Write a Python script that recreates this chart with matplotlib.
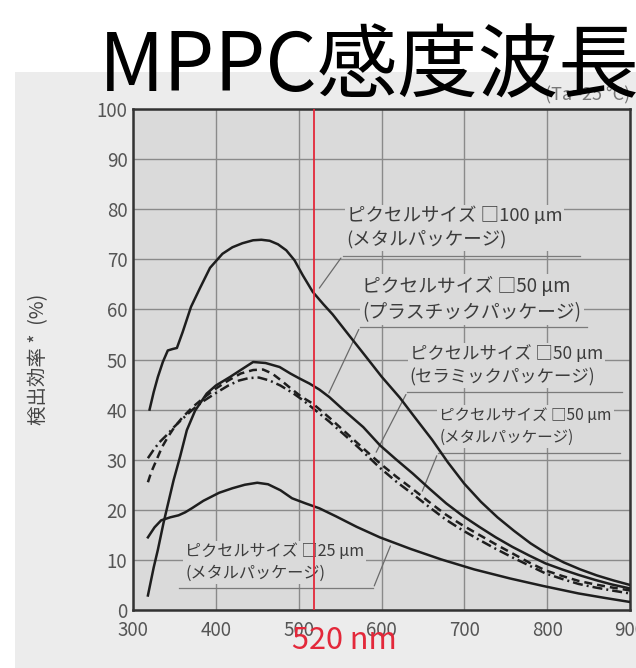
import matplotlib
matplotlib.use("Agg")
import matplotlib.pyplot as plt
from matplotlib.patches import Rectangle

plt.rcParams['font.family'] = ['Noto Sans CJK JP', 'DejaVu Sans']

# --- datos (longitud de onda nm, eficiencia %) ---
wl_100_metal = [320, 325, 330, 336, 342, 348, 353, 360, 370, 381, 393, 408, 420, 432, 445, 455, 465, 475,
                485, 495, 505, 517, 530, 541, 560, 582, 600, 622, 640, 661, 680, 700, 720, 740, 760, 780,
                800, 820, 840, 860, 880, 900]
pde_100_metal = [40, 43.5, 46.5, 49.5, 51.8, 52.1, 52.3, 55.5, 60.5, 64.3, 68.3, 71.1, 72.4, 73.2, 73.8, 73.9,
                 73.7, 73.0, 71.8, 69.8, 66.8, 63.5, 61.0, 59.0, 55.0, 50.4, 46.6, 42.4, 38.5, 34.0, 29.5,
                 25.2, 21.6, 18.5, 15.8, 13.3, 11.2, 9.5, 8.1, 6.9, 5.9, 5.0]

wl_50_plastic = [318, 325, 330, 337, 343, 349, 357, 365, 375, 389, 400, 417, 430, 445, 460, 477, 490, 500,
                 513, 525, 537, 555, 578, 598, 618, 638, 658, 678, 698, 718, 738, 758, 778, 798, 818, 838,
                 858, 878, 900]
pde_50_plastic = [2.9, 8.5, 12.0, 17.5, 21.7, 25.9, 30.7, 35.9, 39.8, 43.2, 44.8, 46.5, 47.9, 49.5, 49.3,
                  48.5, 47.2, 46.3, 45.2, 44.0, 42.5, 39.8, 36.5, 32.9, 30.0, 27.2, 24.2, 21.3, 18.8, 16.6,
                  14.5, 12.6, 10.9, 9.3, 8.1, 7.0, 6.0, 5.1, 4.3]

wl_50_ceramic = [318, 322, 328, 335, 342, 350, 360, 372, 385, 400, 415, 430, 445, 457, 468, 479, 490, 503,
                 517, 537, 557, 577, 598, 618, 638, 658, 678, 698, 718, 738, 758, 778, 798, 818, 838, 858,
                 878, 900]
pde_50_ceramic = [25.5, 27.5, 29.8, 32.5, 34.5, 36.5, 38.5, 40.5, 42.3, 44.2, 45.8, 47.2, 47.9, 48.0, 47.2,
                  45.8, 44.3, 42.6, 41.2, 38.4, 35.4, 32.4, 29.3, 26.6, 24.1, 21.5, 19.0, 16.9, 15.0, 13.1,
                  11.3, 9.5, 7.9, 6.8, 5.8, 5.1, 4.5, 3.9]

wl_50_metal = [318, 325, 332, 340, 350, 360, 372, 385, 400, 415, 428, 440, 452, 465, 478, 493, 505, 517,
               537, 557, 577, 598, 618, 638, 658, 678, 698, 718, 738, 758, 778, 798, 818, 838, 858, 878, 900]
pde_50_metal = [30.3, 32.0, 33.5, 34.8, 36.6, 38.2, 40.0, 41.7, 43.3, 44.8, 45.8, 46.3, 46.4, 45.8, 44.8,
                43.3, 41.9, 40.3, 37.6, 34.7, 31.7, 28.4, 25.6, 23.1, 20.5, 18.0, 15.9, 14.0, 12.2, 10.5,
                8.9, 7.3, 6.2, 5.2, 4.5, 3.9, 3.3]

wl_25_metal = [318, 326, 334, 345, 355, 363, 371, 385, 404, 420, 435, 450, 463, 478, 492, 508, 525, 545,
               570, 598, 635, 672, 712, 755, 795, 838, 870, 900]
pde_25_metal = [14.5, 16.5, 17.9, 18.5, 18.9, 19.5, 20.3, 21.8, 23.4, 24.3, 25.0, 25.4, 25.1, 23.9, 22.3,
                21.3, 20.3, 18.7, 16.6, 14.5, 12.2, 10.1, 8.1, 6.3, 4.8, 3.3, 2.4, 1.6]

etiquetas = ["ピクセルサイズ □100 µm\n(メタルパッケージ)",
             "ピクセルサイズ □50 µm\n(プラスチックパッケージ)",
             "ピクセルサイズ □50 µm\n(セラミックパッケージ)",
             "ピクセルサイズ □50 µm\n(メタルパッケージ)",
             "ピクセルサイズ □25 µm\n(メタルパッケージ)"]

linea_roja_nm = 518

fondo_ejes = '#dadada'

fig = plt.figure(figsize=(6.36, 6.68), dpi=100)
# hoja escaneada detras del grafico
fig.patches.append(Rectangle((15 / 636, 0), 1, 1 - 72 / 668, transform=fig.transFigure,
                             facecolor='#ececec', edgecolor='none', zorder=-5))

ax = fig.add_axes([133 / 636, 58 / 668, 497 / 636, 501 / 668])
ax.set_facecolor(fondo_ejes)

curvas = [(wl_100_metal, pde_100_metal, '-'),
          (wl_50_plastic, pde_50_plastic, '-'),
          (wl_50_ceramic, pde_50_ceramic, (0, (3.2, 2.0))),
          (wl_50_metal, pde_50_metal, (0, (4.0, 1.6, 0.8, 1.6))),
          (wl_25_metal, pde_25_metal, '-')]
for wl, pde, estilo in curvas:
    ax.plot(wl, pde, color='#1e1e1e', lw=1.8, linestyle=estilo, zorder=4)

ax.set_xlim(300, 900)
ax.set_ylim(0, 100)
ax.set_xticks(range(300, 901, 100))
ax.set_yticks(range(0, 101, 10))
ax.grid(True, color='#8a8a8a', lw=1.0)
ax.set_axisbelow(True)
ax.tick_params(length=0, labelsize=13.5, labelcolor='#555555')
ax.tick_params(axis='x', pad=7)
ax.tick_params(axis='y', pad=4)
for lado in ax.spines.values():
    lado.set_color('#333333')
    lado.set_linewidth(1.8)

ax.set_ylabel("検出効率 *  (%)", fontsize=14, color='#444444')
ax.yaxis.set_label_coords(-0.168, 0.5)

# etiquetas: (x texto, y texto, tamaño, subrayado x0, x1, y, flecha hasta)
layout = [(558, 76.3, 13.3, 553, 840, 70.7, (523, 63.8)),
          (577, 62.0, 13.5, 574, 848, 56.5, (535, 42.8)),
          (634, 48.8, 12.5, 631, 890, 43.5, (592, 31.0)),
          (670, 36.6, 11.2, 668, 888, 31.3, (648, 23.2)),
          (363, 9.5, 11.6, 355, 590, 4.3, (612, 13.3))]
for i, (tx, ty, fs, x0, x1, uy, punta) in enumerate(layout):
    ax.text(tx, ty, etiquetas[i], fontsize=fs, color='#3c3c3c', ha='left', va='center',
            linespacing=1.35, zorder=3,
            bbox=dict(facecolor=fondo_ejes, edgecolor='none', pad=1.5))
    ax.plot([x0, x1], [uy, uy], color='#7a7a7a', lw=0.9, zorder=3)
    origen = (x1, uy) if i == 4 else (x0, uy)
    ax.annotate("", xy=punta, xytext=origen,
                arrowprops=dict(arrowstyle='-', color='#6a6a6a', lw=0.9), zorder=3)

ax.axvline(linea_roja_nm, color='#e3283a', lw=1.3, zorder=5)
ax.text(492, -6.0, "520 nm", color='#e3283a', fontsize=22, ha='left', va='center',
        clip_on=False, zorder=6)

ax.text(1.0, 1.028, "(Ta=25 °C)", transform=ax.transAxes, fontsize=13, color='#777777',
        ha='right', va='center', clip_on=False)

fig.text(99 / 636, 1 - 91 / 668, "MPPC感度波長", fontsize=58, color='black',
         ha='left', va='baseline', zorder=10)

fig.savefig("out.png", dpi=100, facecolor='white')
